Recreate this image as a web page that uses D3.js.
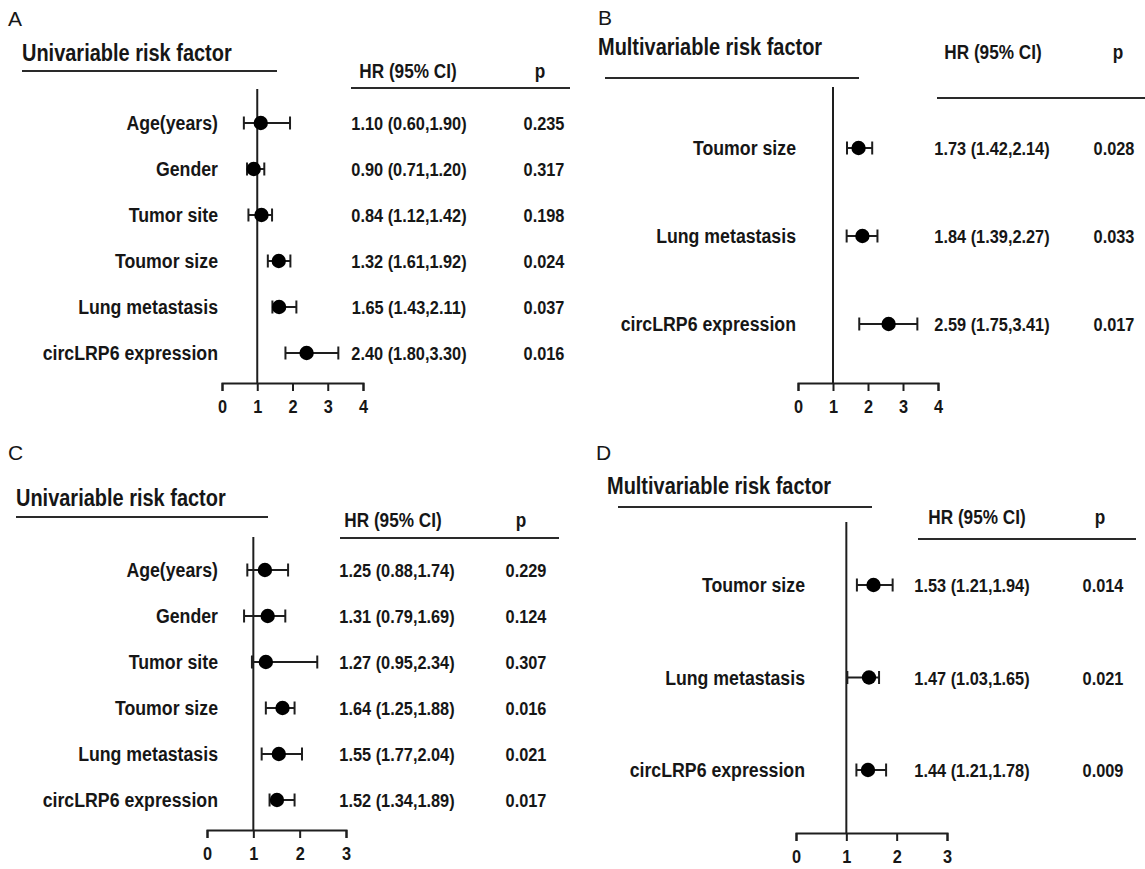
<!DOCTYPE html>
<html>
<head>
<meta charset="utf-8">
<script src="https://cdn.jsdelivr.net/npm/d3@7"></script>
<style>
  html, body { margin: 0; padding: 0; background: #fff; }
  svg { display: block; }
  text { font-family: "Liberation Sans", Arial, sans-serif; fill: #161616; }
</style>
</head>
<body>
<svg id="chart" width="1145" height="869"></svg>
<script>
// ---------- Panel A : univariable ----------
const aFactors = ["Age(years)", "Gender", "Tumor site", "Toumor size", "Lung metastasis", "circLRP6 expression"];
const aHR   = [1.10, 0.90, 1.12, 1.61, 1.62, 2.40];
const aLow  = [0.62, 0.71, 0.75, 1.30, 1.43, 1.80];
const aHigh = [1.93, 1.20, 1.42, 1.94, 2.11, 3.30];
const aHRText = ["1.10 (0.60,1.90)", "0.90 (0.71,1.20)", "0.84 (1.12,1.42)", "1.32 (1.61,1.92)", "1.65 (1.43,2.11)", "2.40 (1.80,3.30)"];
const aP = ["0.235", "0.317", "0.198", "0.024", "0.037", "0.016"];
const aTicks = [0, 1, 2, 3, 4];

// ---------- Panel B : multivariable ----------
const bFactors = ["Toumor size", "Lung metastasis", "circLRP6 expression"];
const bHR   = [1.73, 1.84, 2.59];
const bLow  = [1.40, 1.39, 1.75];
const bHigh = [2.12, 2.27, 3.41];
const bHRText = ["1.73 (1.42,2.14)", "1.84 (1.39,2.27)", "2.59 (1.75,3.41)"];
const bP = ["0.028", "0.033", "0.017"];
const bTicks = [0, 1, 2, 3, 4];

// ---------- Panel C : univariable ----------
const cFactors = ["Age(years)", "Gender", "Tumor site", "Toumor size", "Lung metastasis", "circLRP6 expression"];
const cHR   = [1.25, 1.31, 1.27, 1.63, 1.55, 1.51];
const cLow  = [0.87, 0.80, 0.97, 1.27, 1.18, 1.35];
const cHigh = [1.75, 1.69, 2.38, 1.89, 2.05, 1.89];
const cHRText = ["1.25 (0.88,1.74)", "1.31 (0.79,1.69)", "1.27 (0.95,2.34)", "1.64 (1.25,1.88)", "1.55 (1.77,2.04)", "1.52 (1.34,1.89)"];
const cP = ["0.229", "0.124", "0.307", "0.016", "0.021", "0.017"];
const cTicks = [0, 1, 2, 3];

// ---------- Panel D : multivariable ----------
const dFactors = ["Toumor size", "Lung metastasis", "circLRP6 expression"];
const dHR   = [1.54, 1.45, 1.43];
const dLow  = [1.21, 1.02, 1.20];
const dHigh = [1.92, 1.65, 1.79];
const dHRText = ["1.53 (1.21,1.94)", "1.47 (1.03,1.65)", "1.44 (1.21,1.78)"];
const dP = ["0.014", "0.021", "0.009"];
const dTicks = [0, 1, 2, 3];

const headerHR = "HR (95% CI)";
const headerP = "p";

const svg = d3.select("#chart");
const INK = "#1e1e1e";

function ctext(g, x, y, str, size, sx, anchor, weight) {
  return g.append("text")
    .attr("transform", `translate(${x},${y}) scale(${sx},1)`)
    .attr("text-anchor", anchor)
    .style("font-size", size + "px")
    .style("font-weight", weight)
    .text(str);
}
function hline(g, y, x1, x2) {
  g.append("line").attr("x1", x1).attr("x2", x2).attr("y1", y).attr("y2", y)
    .attr("stroke", "#2a2a2a").attr("stroke-width", 2);
}

function drawPanel(cfg, factors, hr, low, high, hrText, pText, ticks) {
  const g = svg.append("g");
  g.append("text").attr("x", cfg.letterX).attr("y", cfg.letterY)
    .style("font-size", "21px").style("font-weight", "400").text(cfg.letter);
  ctext(g, cfg.titleX, cfg.titleY, cfg.title, 23.5, 0.85, "start", 700);
  hline(g, cfg.titleLineY, cfg.titleLineX1, cfg.titleLineX2);
  ctext(g, cfg.hrX, cfg.headY, headerHR, 20, 0.86, "middle", 700);
  ctext(g, cfg.pHeadX, cfg.headY, headerP, 20, 0.86, "middle", 700);
  hline(g, cfg.tableLineY, cfg.tableX1, cfg.tableX2);

  const x = d3.scaleLinear().domain([ticks[0], ticks[ticks.length - 1]]).range([cfg.x0, cfg.x1]);
  const y = d3.scaleLinear().domain([0, factors.length - 1])
    .range([cfg.rowFirst, cfg.rowFirst + cfg.rowStep * (factors.length - 1)]);

  g.append("line").attr("x1", x(1)).attr("x2", x(1)).attr("y1", cfg.refTop).attr("y2", cfg.axisY)
    .attr("stroke", INK).attr("stroke-width", 2);

  const ax = g.append("g").attr("transform", `translate(0,${cfg.axisY})`)
    .call(d3.axisBottom(x).tickValues(ticks).tickFormat(d3.format("d")).tickSize(8).tickSizeOuter(8).tickPadding(9));
  ax.select(".domain").attr("stroke", INK).attr("stroke-width", 2);
  ax.selectAll(".tick line").attr("stroke", INK).attr("stroke-width", 2);
  ax.selectAll(".tick text")
    .attr("transform", "scale(0.86,1)")
    .style("font-family", "'Liberation Sans', Arial, sans-serif")
    .style("font-size", "19px").style("font-weight", 700).attr("fill", "#161616");

  const rows = factors.map((f, i) => ({ f, hr: hr[i], lo: low[i], hi: high[i], t: hrText[i], p: pText[i], i }));
  const rg = g.selectAll("g.row").data(rows).join("g").attr("class", "row");

  rg.each(function (d) {
    const r = d3.select(this);
    const yc = y(d.i);
    ctext(r, cfg.labelRight, yc + 7, d.f, 20.5, 0.865, "end", 700);
    ctext(r, cfg.hrTextX, yc + 7, d.t, 19, 0.86, "middle", 700);
    ctext(r, cfg.pX, yc + 7, d.p, 19, 0.86, "middle", 700);
    r.append("line").attr("x1", x(d.lo)).attr("x2", x(d.hi)).attr("y1", yc).attr("y2", yc)
      .attr("stroke", INK).attr("stroke-width", 2);
    [d.lo, d.hi].forEach(v => {
      r.append("line").attr("x1", x(v)).attr("x2", x(v)).attr("y1", yc - 6.5).attr("y2", yc + 6.5)
        .attr("stroke", INK).attr("stroke-width", 2);
    });
    r.append("circle").attr("cx", x(d.hr)).attr("cy", yc).attr("r", 7.2).attr("fill", "#000");
  });
}

drawPanel({
  letter: "A", letterX: 8, letterY: 26,
  title: "Univariable risk factor", titleX: 22, titleY: 61,
  titleLineY: 71, titleLineX1: 22, titleLineX2: 277,
  hrX: 408, pHeadX: 540, headY: 78,
  tableLineY: 88, tableX1: 351, tableX2: 570,
  refTop: 89, rowFirst: 123, rowStep: 46,
  axisY: 383, x0: 222, x1: 363,
  labelRight: 218, hrTextX: 409, pX: 544
}, aFactors, aHR, aLow, aHigh, aHRText, aP, aTicks);

drawPanel({
  letter: "B", letterX: 598, letterY: 25,
  title: "Multivariable risk factor", titleX: 598, titleY: 55,
  titleLineY: 78, titleLineX1: 605, titleLineX2: 859,
  hrX: 993, pHeadX: 1118, headY: 59,
  tableLineY: 98, tableX1: 937, tableX2: 1145,
  refTop: 87, rowFirst: 148, rowStep: 88,
  axisY: 383, x0: 798, x1: 938,
  labelRight: 796, hrTextX: 992, pX: 1114
}, bFactors, bHR, bLow, bHigh, bHRText, bP, bTicks);

drawPanel({
  letter: "C", letterX: 8, letterY: 460,
  title: "Univariable risk factor", titleX: 16, titleY: 506,
  titleLineY: 517, titleLineX1: 16, titleLineX2: 268,
  hrX: 393, pHeadX: 521, headY: 527,
  tableLineY: 538, tableX1: 340, tableX2: 559,
  refTop: 537, rowFirst: 570, rowStep: 46,
  axisY: 830, x0: 207, x1: 346,
  labelRight: 218, hrTextX: 397, pX: 526
}, cFactors, cHR, cLow, cHigh, cHRText, cP, cTicks);

drawPanel({
  letter: "D", letterX: 596, letterY: 460,
  title: "Multivariable risk factor", titleX: 607, titleY: 494,
  titleLineY: 507, titleLineX1: 618, titleLineX2: 872,
  hrX: 977, pHeadX: 1100, headY: 524,
  tableLineY: 539, tableX1: 918, tableX2: 1136,
  refTop: 522, rowFirst: 585, rowStep: 92.5,
  axisY: 833, x0: 796, x1: 947,
  labelRight: 805, hrTextX: 972, pX: 1103
}, dFactors, dHR, dLow, dHigh, dHRText, dP, dTicks);
</script>
</body>
</html>
